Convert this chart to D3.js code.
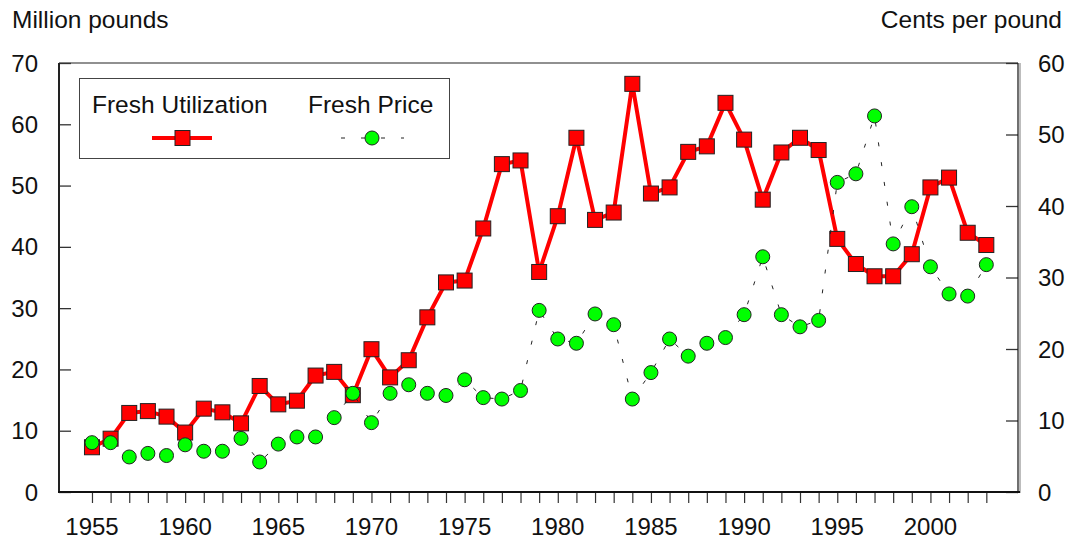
<!DOCTYPE html>
<html>
<head>
	<title>Fresh utilization and price</title>
	<script src="https://d3js.org/d3.v7.min.js"></script>
	<style>
		body { margin: 0; background: #fff; }
		text { font-family: "Liberation Sans", Arial, sans-serif; font-size: 24px; fill: #111; }
		.big { font-size: 24.5px; }
	</style>
</head>
<body>
<section id="container">
</section>
</body>
<script>

//Chart data
var years = [1955, 1956, 1957, 1958, 1959, 1960, 1961, 1962, 1963, 1964,
	1965, 1966, 1967, 1968, 1969, 1970, 1971, 1972, 1973, 1974,
	1975, 1976, 1977, 1978, 1979, 1980, 1981, 1982, 1983, 1984,
	1985, 1986, 1987, 1988, 1989, 1990, 1991, 1992, 1993, 1994,
	1995, 1996, 1997, 1998, 1999, 2000, 2001, 2002, 2003];

//Million pounds (left axis)
var freshUtilization = [7.3, 8.7, 12.9, 13.2, 12.3, 9.7, 13.6, 13.0, 11.2, 17.3,
	14.3, 14.9, 19.0, 19.6, 15.8, 23.3, 18.7, 21.5, 28.5, 34.2,
	34.5, 43.0, 53.5, 54.1, 35.9, 45.0, 57.8, 44.4, 45.6, 66.6,
	48.7, 49.7, 55.5, 56.4, 63.5, 57.5, 47.7, 55.4, 57.8, 55.8,
	41.3, 37.2, 35.2, 35.2, 38.8, 49.7, 51.3, 42.3, 40.3];

//Cents per pound (right axis)
var freshPrice = [6.9, 6.9, 4.9, 5.4, 5.1, 6.6, 5.7, 5.7, 7.5, 4.2,
	6.7, 7.7, 7.7, 10.4, 13.8, 9.7, 13.8, 15.0, 13.8, 13.5,
	15.7, 13.2, 13.0, 14.2, 25.4, 21.4, 20.8, 24.9, 23.4, 13.0,
	16.7, 21.4, 19.0, 20.8, 21.6, 24.8, 32.9, 24.8, 23.1, 24.0,
	43.3, 44.5, 52.6, 34.7, 39.9, 31.5, 27.7, 27.4, 31.8];

var leftTicks = [0, 10, 20, 30, 40, 50, 60, 70];
var rightTicks = [0, 10, 20, 30, 40, 50, 60];
var yearLabels = [1955, 1960, 1965, 1970, 1975, 1980, 1985, 1990, 1995, 2000];

var seriesNames = ["Fresh Utilization", "Fresh Price"];

var svgWidth = 1081;
var svgHeight = 540;

//Plot area
var plotLeft = 59, plotRight = 1018, plotTop = 63, plotBottom = 492;

var svg = d3.select("#container")
	.append("svg")
	.attr("width", svgWidth)
	.attr("height", svgHeight);

//Scales
var x = d3.scaleLinear().domain([1953.23, 2004.7]).range([plotLeft, plotRight]);
var yLeft = d3.scaleLinear().domain([0, 70]).range([plotBottom, plotTop]);
var yRight = d3.scaleLinear().domain([0, 60]).range([plotBottom, plotTop]);

//Frame top line
svg.append("line")
	.attr("x1", plotLeft).attr("x2", plotRight)
	.attr("y1", plotTop).attr("y2", plotTop)
	.attr("stroke", "#222").attr("stroke-width", 1.2);

//Left axis, ticks point inward
var leftAxis = svg.append("g")
	.attr("transform", "translate(" + plotLeft + ",0)")
	.call(d3.axisRight(yLeft).tickValues(leftTicks).tickSize(12).tickFormat(""));
leftAxis.select(".domain").remove();
leftAxis.selectAll("line").attr("stroke", "#333").attr("stroke-width", 1.3);
svg.append("line")
	.attr("x1", plotLeft).attr("x2", plotLeft)
	.attr("y1", plotTop).attr("y2", plotBottom + 1)
	.attr("stroke", "#222").attr("stroke-width", 2);
svg.selectAll(".leftLabel")
	.data(leftTicks)
	.enter().append("text")
	.attr("class", "leftLabel")
	.attr("x", 38)
	.attr("y", function(d) { return yLeft(d); })
	.attr("dy", "0.36em")
	.attr("text-anchor", "end")
	.text(function(d) { return d; });

//Right axis, ticks point inward
var rightAxis = svg.append("g")
	.attr("transform", "translate(" + plotRight + ",0)")
	.call(d3.axisLeft(yRight).tickValues(rightTicks).tickSize(12).tickFormat(""));
rightAxis.select(".domain").remove();
rightAxis.selectAll("line").attr("stroke", "#333").attr("stroke-width", 1.3);
svg.append("line")
	.attr("x1", plotRight).attr("x2", plotRight)
	.attr("y1", plotTop).attr("y2", plotBottom + 1)
	.attr("stroke", "#222").attr("stroke-width", 1.3);
svg.append("line")
	.attr("x1", plotRight + 2).attr("x2", plotRight + 2)
	.attr("y1", plotTop).attr("y2", plotBottom + 1)
	.attr("stroke", "#999").attr("stroke-width", 1.3);
svg.selectAll(".rightLabel")
	.data(rightTicks)
	.enter().append("text")
	.attr("class", "rightLabel")
	.attr("x", 1038)
	.attr("y", function(d) { return yRight(d); })
	.attr("dy", "0.36em")
	.text(function(d) { return d; });

//Bottom axis, a tick for every year
var bottomAxis = svg.append("g")
	.attr("transform", "translate(0," + plotBottom + ")")
	.call(d3.axisBottom(x).tickValues(years).tickSize(11).tickFormat(""));
bottomAxis.select(".domain").remove();
bottomAxis.selectAll("line").attr("stroke", "#333").attr("stroke-width", 1.2);
svg.append("line")
	.attr("x1", plotLeft - 1).attr("x2", plotRight + 2)
	.attr("y1", plotBottom).attr("y2", plotBottom)
	.attr("stroke", "#111").attr("stroke-width", 2.2);
svg.selectAll(".yearLabel")
	.data(yearLabels)
	.enter().append("text")
	.attr("class", "yearLabel")
	.attr("x", function(d) { return x(d); })
	.attr("y", 535)
	.attr("text-anchor", "middle")
	.text(function(d) { return d; });

//Axis titles
svg.append("text").attr("class", "big").attr("x", 12).attr("y", 28).text("Million pounds");
svg.append("text").attr("class", "big").attr("x", 1062).attr("y", 28).attr("text-anchor", "end").text("Cents per pound");

//Fresh utilization line and squares
var utilLine = d3.line()
	.x(function(d, i) { return x(years[i]); })
	.y(function(d) { return yLeft(d); });

svg.append("path")
	.datum(freshUtilization)
	.attr("d", utilLine)
	.attr("fill", "none")
	.attr("stroke", "#ff0000")
	.attr("stroke-width", 4)
	.attr("stroke-linejoin", "round");

var sq = 15;
svg.selectAll(".utilMark")
	.data(freshUtilization)
	.enter().append("rect")
	.attr("class", "utilMark")
	.attr("x", function(d, i) { return x(years[i]) - sq / 2; })
	.attr("y", function(d) { return yLeft(d) - sq / 2; })
	.attr("width", sq)
	.attr("height", sq)
	.attr("fill", "#ff0000")
	.attr("stroke", "#222")
	.attr("stroke-width", 1);

//Fresh price dashed line and circles
var priceLine = d3.line()
	.x(function(d, i) { return x(years[i]); })
	.y(function(d) { return yRight(d); });

svg.append("path")
	.datum(freshPrice)
	.attr("d", priceLine)
	.attr("fill", "none")
	.attr("stroke", "#222")
	.attr("stroke-width", 1)
	.attr("stroke-dasharray", "4,16");

svg.selectAll(".priceMark")
	.data(freshPrice)
	.enter().append("circle")
	.attr("class", "priceMark")
	.attr("cx", function(d, i) { return x(years[i]); })
	.attr("cy", function(d) { return yRight(d); })
	.attr("r", 7)
	.attr("fill", "#00ff00")
	.attr("stroke", "#222")
	.attr("stroke-width", 1);

//Legend
var legend = svg.append("g");
legend.append("rect")
	.attr("x", 79.5).attr("y", 78.5)
	.attr("width", 370).attr("height", 80)
	.attr("fill", "#fff")
	.attr("stroke", "#444")
	.attr("stroke-width", 1);
legend.append("text").attr("class", "big").attr("x", 92).attr("y", 113).text(seriesNames[0]);
legend.append("text").attr("class", "big").attr("x", 308).attr("y", 113).text(seriesNames[1]);

legend.append("line")
	.attr("x1", 152).attr("x2", 212)
	.attr("y1", 138).attr("y2", 138)
	.attr("stroke", "#ff0000").attr("stroke-width", 4);
legend.append("rect")
	.attr("x", 182.5 - sq / 2).attr("y", 138 - sq / 2)
	.attr("width", sq).attr("height", sq)
	.attr("fill", "#ff0000").attr("stroke", "#222");

legend.append("line")
	.attr("x1", 341).attr("x2", 404)
	.attr("y1", 138).attr("y2", 138)
	.attr("stroke", "#222").attr("stroke-width", 1)
	.attr("stroke-dasharray", "4,16");
legend.append("circle")
	.attr("cx", 372).attr("cy", 138).attr("r", 7)
	.attr("fill", "#00ff00").attr("stroke", "#222");

</script>
</html>
